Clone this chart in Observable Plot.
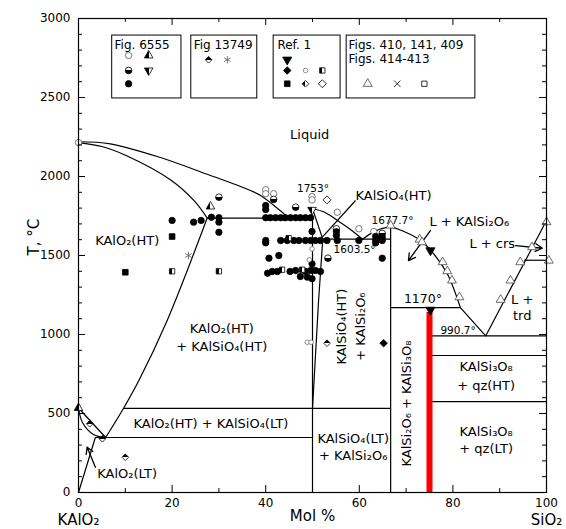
<!DOCTYPE html>
<html><head><meta charset="utf-8">
<script src="https://cdn.jsdelivr.net/npm/d3@7"></script>
<script src="https://cdn.jsdelivr.net/npm/@observablehq/plot@0.6"></script>
<style>body{margin:0;background:#fff;}</style>
</head><body><div id="chart"></div>
<script>
// ---- phase boundary curves [mol% SiO2, T °C]
const liquidusKAlO2 = [[0,2220],[6.8,2207],[17.5,2120],[28.2,2006],[34.6,1937],[38.9,1880],[43.8,1766],[44.9,1737]];
const solidusKAlO2 = [[0,2215],[5,2190],[10.4,2130],[19.7,1978],[24.6,1850],[27.5,1737]];
const solvusKAlO2 = [[27.5,1737],[18.95,1089],[12.9,709],[9.6,532],[5.8,348]];
const ltCurve = [[0,535],[0.85,443],[3.2,367],[5.8,348]];
const ltStraight = [[0,535],[5.8,348]];
const ltLine = [[0,0],[3.6,348]];
const kalsiliteSS = [[50,1796],[52.2,1603.5],[51.3,1215],[50,532]];
const liquidusKAlSiO4 = [[50,1796],[52.5,1775],[55.3,1722],[58.1,1665],[60.7,1603.5]];
const liquidusLeucite = [[60.7,1603.5],[62.5,1640],[64.5,1668],[66.7,1680],[69.9,1647],[73.1,1595],[75.9,1511],[78.8,1384],[81.6,1170]];
const liquidusRight = [[81.6,1170],[87,990.7],[100,1721]];
const segments = [[3.6,348,50,348],[9.6,532,66.7,532],[50,1737,50,0],[27.5,1737,50,1737],
  [52.2,1603.5,66.7,1603.5],[66.7,1680,66.7,0],[66.7,1170,81.6,1170],[75,990.7,75,0],
  [75,990.7,100,990.7],[75,867,100,867],[75,575,100,575],[95.2,1470,100,1470],[59.2,1848,52.1,1616]];
const arrows = [[3.6,160,1.85,287],[75.2,1658,70.5,1468],[93.4,1563,99.1,1546]];
const redBar = [[75,0,1140]];

// ---- experimental points
const fig6555_open = [[0,2215],[40.0,1916],[41.7,1891],[40.0,1891],[49.9,1873],[49.9,1852],[55.3,1774],[59.9,1669],[63.1,1652]];
const fig6555_half = [[30.0,1869],[41.7,1855],[46.4,1806],[55.1,1669],[64.9,1640],[53.3,1483]];
const fig6555_tri = [[28.2,1810],[0,535]];
const fig6555_triDown = [[49.9,1789]];
const fig6555_filled = [[20.0,1722],[24.6,1711],[26.2,1722],[28.4,1742],[30.0,1739],[30.0,1711],[30.0,1647],
  [40.0,1816],[40.0,1791],
  [40.0,1739],[41.0,1739],[42.1,1739],[43.2,1739],[44.2,1739],[45.3,1739],[46.4,1739],[47.4,1739],[48.5,1739],[49.6,1739],
  [40.0,1595],[40.0,1580],[43.2,1595],[44.6,1595],[46.0,1595],[47.1,1595],[48.5,1595],[49.6,1595],[50.6,1595],[51.7,1595],[53.1,1595],[55.3,1595],[59.9,1595],[63.5,1595],[64.9,1595],
  [49.9,1652],[55.1,1650],[55.1,1627],[63.5,1620],[63.5,1580],[64.9,1616],
  [40.7,1483],[42.8,1500],[49.9,1447],[64.9,1483],
  [40.4,1388],[41.4,1399],[42.5,1399],[45.2,1399],[46.4,1405],[48.5,1399],[49.6,1405],[50.6,1405],[51.7,1399],[47.4,1367],[48.9,1363],[49.9,1353]];
const fig13749_half = [[53.1,945],[2.4,435],[5.1,340],[10.0,223]];
const fig13749_star = [[23.5,1500]];
const ref1_triDown = [[75.2,1532],[75.2,1156]];
const ref1_diamond = [[65.2,945]];
const ref1_smallOpen = [[48.9,951],[49.7,951],[49.9,1542],[49.3,1473]];
const ref1_halfSquare = [[20.0,1400],[30.0,1400],[44.9,1610],[43.5,1410],[47.8,1410]];
const ref1_square = [[20.0,1620],[10.0,1394]];
const ref1_openDiamond = [[53.1,1852]];
const figs_openTri = [[66.7,1690],[72.9,1601],[73.4,1584],[77.8,1458],[78.8,1401],[79.8,1342],[81.4,1236],
  [90.2,1220],[92.3,1342],[94.4,1458],[96.9,1553],[100,1711],[100.5,1468]];

// ---- legend
const legendBoxes = [[7.2,22.0],[24.1,38.2],[41.7,56.0],[57.3,84.8]];
const legendBoxY = [2494,2892];
const legendTexts = [[7.7,2829,"Fig. 6555"],[24.6,2829,"Fig 13749"],[42.5,2829,"Ref. 1"],[57.7,2832,"Figs. 410, 141, 409"],[57.7,2742,"Figs. 414-413"]];
const legendMarkers = [["oc",10.7,2766],["tri",15.0,2766],["hc",10.7,2671],["tdh",15.0,2671],["fc",10.7,2587],
  ["hd",27.8,2739],["star",31.8,2739],
  ["ftd",44.6,2739],["fd",44.6,2671],["soc",48.5,2671],["hsq",52.1,2671],["fsq",44.6,2587],["hd2",48.5,2587],["od",52.1,2587],
  ["ot",61.8,2587],["x",68.1,2587],["osq",73.9,2587]];

// ---- region labels
const labels = [
  [49.4,2266,"Liquid",13,0,"middle"],
  [50.1,1923,"1753°",10.5,0,"middle"],
  [59.2,1880,"KAlSiO₄(HT)",13,0,"start"],
  [67.1,1721,"1677.7°",10.5,0,"middle"],
  [59.0,1536,"1603.5°",10.5,0,"middle"],
  [83.5,1713,"L + KAlSi₂O₆",13,0,"middle"],
  [88.4,1574,"L + crs",13,0,"middle"],
  [94.8,1220,"L +",13,0,"middle"],
  [94.8,1120,"trd",13,0,"middle"],
  [73.6,1226,"1170°",12.5,0,"middle"],
  [81.1,1025,"990.7°",10.5,0,"middle"],
  [10.4,1595,"KAlO₂(HT)",13,0,"middle"],
  [30.6,1038,"KAlO₂(HT)",13,0,"middle"],
  [30.6,920,"+ KAlSiO₄(HT)",13,0,"middle"],
  [28.3,435,"KAlO₂(HT) + KAlSiO₄(LT)",13,0,"middle"],
  [10.4,118,"KAlO₂(LT)",13,0,"middle"],
  [58.7,340,"KAlSiO₄(LT)",13,0,"middle"],
  [58.7,234,"+ KAlSi₂O₆",13,0,"middle"],
  [56.2,1050,"KAlSiO₄(HT)",13,-90,"middle"],
  [60.3,1050,"+ KAlSi₂O₆",13,-90,"middle"],
  [70.1,563,"KAlSi₂O₆ + KAlSi₃O₈",13,-90,"middle"],
  [87.1,793,"KAlSi₃O₈",13,0,"middle"],
  [87.1,677,"+ qz(HT)",13,0,"middle"],
  [87.1,382,"KAlSi₃O₈",13,0,"middle"],
  [87.1,276,"+ qz(LT)",13,0,"middle"]
];

// ---- axes
const xMajor = [0,20,40,60,80,100];
const xMinor = [10,30,50,70,90];
const yMajor = [0,500,1000,1500,2000,2500,3000];
const yMinor = d3.range(100,3000,100).filter(v => v % 500 !== 0);
const xEndLabels = [[0,"KAlO₂"],[100,"SiO₂"]];

const P = a => a.map(([x,y]) => ({x,y}));
const triDown = {draw(ctx, size){const k=Math.sqrt(size/(3*Math.sqrt(3)));const s=Math.sqrt(3)*k;ctx.moveTo(0,2*k);ctx.lineTo(-s,-k);ctx.lineTo(s,-k);ctx.closePath();}};

const sty = {
  oc:{symbol:"circle",fill:"white",stroke:"#555",r:3.2},
  hc:{symbol:"circle",fill:"url(#gBot)",stroke:"black",r:3.3},
  fc:{symbol:"circle",fill:"black",stroke:"black",r:3.2},
  tri:{symbol:"triangle",fill:"url(#gLeft)",stroke:"black",r:3.2},
  tdh:{symbol:triDown,fill:"url(#gLeft)",stroke:"black",r:3.2},
  hd:{symbol:"diamond2",fill:"url(#gTop)",stroke:"black",r:3},
  star:{symbol:"asterisk",fill:"none",stroke:"#555",r:3.5},
  ftd:{symbol:triDown,fill:"black",stroke:"black",r:3.4},
  fd:{symbol:"diamond2",fill:"black",stroke:"black",r:3.4},
  soc:{symbol:"circle",fill:"white",stroke:"#777",r:2.3},
  hsq:{symbol:"square",fill:"url(#gLeft)",stroke:"black",r:3},
  fsq:{symbol:"square",fill:"black",stroke:"black",r:3.2},
  hd2:{symbol:"diamond2",fill:"url(#gLeft)",stroke:"black",r:3},
  od:{symbol:"diamond2",fill:"white",stroke:"black",r:3.6},
  ot:{symbol:"triangle",fill:"white",stroke:"#444",r:3.3},
  x:{symbol:"times",fill:"none",stroke:"black",r:3},
  osq:{symbol:"square",fill:"white",stroke:"black",r:3}
};
const dots = (data, key) => Plot.dot(data, {x:d=>d[0], y:d=>d[1], ...sty[key], strokeWidth:0.8});
const ptSets = [[fig6555_open,"oc"],[fig6555_half,"hc"],[fig6555_tri,"tri"],[fig6555_triDown,"tdh"],[fig6555_filled,"fc"],
  [fig13749_half,"hd"],[fig13749_star,"star"],[ref1_triDown,"ftd"],[ref1_diamond,"fd"],[ref1_smallOpen,"soc"],
  [ref1_halfSquare,"hsq"],[ref1_square,"fsq"],[ref1_openDiamond,"od"],[figs_openTri,"ot"]];

const lw = 1.2;
const curveLine = (a, curve) => Plot.line(P(a), {x:"x", y:"y", stroke:"black", strokeWidth:lw, curve});

const chart = Plot.plot({
  width: 566, height: 529,
  marginLeft: 78, marginRight: 20, marginTop: 18, marginBottom: 37,
  x: {domain:[0,100], axis:null},
  y: {domain:[0,3000], axis:null},
  style: {fontFamily:"DejaVu Sans", fontSize:"12px", background:"white", color:"black"},
  marks: [
    curveLine(liquidusKAlO2,"catmull-rom"),
    curveLine(solidusKAlO2,"catmull-rom"),
    curveLine(solvusKAlO2,"catmull-rom"),
    curveLine(ltCurve,"catmull-rom"),
    curveLine(ltStraight,"linear"),
    curveLine(ltLine,"linear"),
    curveLine(kalsiliteSS,"linear"),
    curveLine(liquidusKAlSiO4,"catmull-rom"),
    curveLine(liquidusLeucite,"catmull-rom"),
    curveLine(liquidusRight,"linear"),
    Plot.link(segments, {x1:d=>d[0], y1:d=>d[1], x2:d=>d[2], y2:d=>d[3], stroke:"black", strokeWidth:lw}),
    Plot.arrow(arrows, {x1:d=>d[0], y1:d=>d[1], x2:d=>d[2], y2:d=>d[3], stroke:"black", strokeWidth:1.3, headLength:9}),
    Plot.ruleX(redBar, {x:d=>d[0], y1:d=>d[1], y2:d=>d[2], stroke:"red", strokeWidth:6}),
    Plot.rect(legendBoxes, {x1:d=>d[0], x2:d=>d[1], y1:legendBoxY[0], y2:legendBoxY[1], fill:"white", stroke:"black", strokeWidth:1}),
    Plot.text(legendTexts, {x:d=>d[0], y:d=>d[1], text:d=>d[2], textAnchor:"start", fontSize:12}),
    ...Object.keys(sty).map(k => dots(legendMarkers.filter(m=>m[0]===k).map(m=>[m[1],m[2]]), k)),
    ...ptSets.map(([d,k]) => dots(d,k)),
    ...labels.map(l => Plot.text([l], {x:d=>d[0], y:d=>d[1], text:d=>d[2], fontSize:l[3], rotate:l[4], textAnchor:l[5]})),
    Plot.ruleX(xMajor, {x:d=>d, y1:0, y2:44, stroke:"black"}),
    Plot.ruleX(xMajor, {x:d=>d, y1:3000-44, y2:3000, stroke:"black"}),
    Plot.ruleX(xMinor, {x:d=>d, y1:0, y2:25, stroke:"black"}),
    Plot.ruleX(xMinor, {x:d=>d, y1:3000-25, y2:3000, stroke:"black"}),
    Plot.ruleY(yMajor, {y:d=>d, x1:0, x2:1.5, stroke:"black"}),
    Plot.ruleY(yMajor, {y:d=>d, x1:98.5, x2:100, stroke:"black"}),
    Plot.ruleY(yMinor, {y:d=>d, x1:0, x2:0.85, stroke:"black"}),
    Plot.ruleY(yMinor, {y:d=>d, x1:99.15, x2:100, stroke:"black"}),
    Plot.frame({stroke:"black", strokeWidth:1.2}),
    Plot.text(xMajor, {x:d=>d, y:0, text:d=>String(d), dy:11, fontSize:12}),
    Plot.text(yMajor, {x:0, y:d=>d, text:d=>String(d), dx:-8, textAnchor:"end", fontSize:12}),
    Plot.text(xEndLabels, {x:d=>d[0], y:0, text:d=>d[1], dy:28, fontSize:15}),
    Plot.text(["Mol %"], {frameAnchor:"bottom", text:d=>d, dy:28, fontSize:15}),
    Plot.text(["T, °C"], {frameAnchor:"left", text:d=>d, dx:-44, rotate:-90, fontSize:15})
  ]
});

const ns = "http://www.w3.org/2000/svg";
const defs = document.createElementNS(ns, "defs");
const grads = {gBot:[0,0,0,1], gTop:[0,1,0,0], gLeft:[1,0,0,0]};
for (const [id,[x1,y1,x2,y2]] of Object.entries(grads)) {
  const g = document.createElementNS(ns, "linearGradient");
  g.setAttribute("id", id);
  g.setAttribute("x1", x1); g.setAttribute("y1", y1); g.setAttribute("x2", x2); g.setAttribute("y2", y2);
  [["0","white"],["0.5","white"],["0.5","black"],["1","black"]].forEach(([o,c]) => {
    const s = document.createElementNS(ns, "stop");
    s.setAttribute("offset", o); s.setAttribute("stop-color", c); g.appendChild(s);
  });
  defs.appendChild(g);
}
chart.insertBefore(defs, chart.firstChild);
document.getElementById("chart").appendChild(chart);
</script></body></html>
